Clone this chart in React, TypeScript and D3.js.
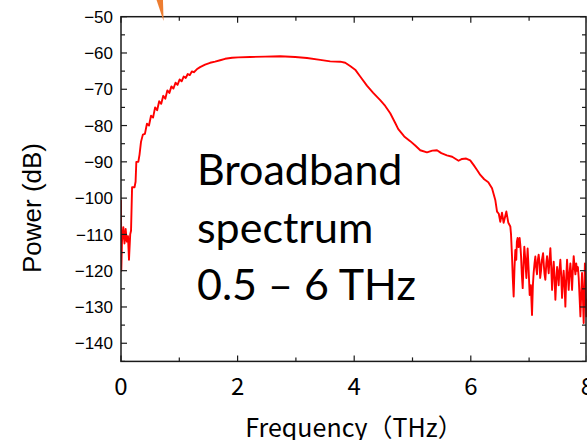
import React from "react";
import * as d3 from "d3";

// Measured THz power spectrum: frequency (THz) and power (dB)
const freqTHz = [
  0.0, 0.005, 0.017, 0.04, 0.06, 0.08, 0.1, 0.12, 0.137, 0.158, 0.172, 0.19,
  0.232, 0.25, 0.263, 0.297, 0.318, 0.343, 0.375, 0.41, 0.445, 0.48, 0.515,
  0.55, 0.585, 0.62, 0.655, 0.69, 0.725, 0.76, 0.795, 0.83, 0.865, 0.9, 0.935,
  0.97, 1.005, 1.04, 1.075, 1.11, 1.145, 1.18, 1.215, 1.25,
  1.3, 1.356, 1.442, 1.528, 1.614, 1.7, 1.785, 1.906, 2.009, 2.215,
  2.472, 2.73, 2.987, 3.19, 3.416, 3.588, 3.76, 3.846, 3.93, 4.017, 4.1, 4.218,
  4.326, 4.446, 4.532, 4.618, 4.704, 4.756, 4.858, 4.961, 5.047, 5.133, 5.248,
  5.34, 5.42, 5.494, 5.59, 5.68, 5.79, 5.85, 5.92, 5.99, 6.05, 6.11, 6.163,
  6.23, 6.3, 6.364, 6.42, 6.45, 6.48, 6.506, 6.535, 6.563, 6.61, 6.644, 6.678,
  6.69, 6.707, 6.72, 6.735, 6.75, 6.764, 6.78, 6.79, 6.803, 6.82, 6.838, 6.85,
  6.862, 6.875, 6.89, 6.905, 6.918, 6.935, 6.953, 6.965, 6.975, 6.99, 7.01, 7.03,
  7.05, 7.065, 7.078, 7.093, 7.107, 7.12, 7.136, 7.15, 7.164, 7.18, 7.19, 7.205,
  7.22, 7.24, 7.255, 7.265, 7.279, 7.295, 7.308, 7.32, 7.336, 7.35, 7.365, 7.38,
  7.394, 7.408, 7.422, 7.437, 7.451, 7.465, 7.48, 7.495, 7.507, 7.52, 7.536, 7.55,
  7.565, 7.58, 7.593, 7.608, 7.622, 7.637, 7.651, 7.665, 7.679, 7.693, 7.708, 7.722,
  7.737, 7.75, 7.765, 7.78, 7.794, 7.808, 7.822, 7.837, 7.851, 7.865, 7.88, 7.895,
  7.908, 7.922, 7.936, 7.947, 7.957, 7.97, 7.98, 7.99, 8.0,
];
const powerDb = [
  -100.5, -120, -112, -108, -112.5, -108.5, -112, -110.5, -117, -110, -109, -97,
  -97, -95.5, -90, -90, -88, -84.5, -82.5, -82.3, -79.5, -80, -77.3,
  -77.8, -75, -75.8, -73.3, -74, -71.8, -72.6, -70.3, -71, -69.2, -69.8, -68.2,
  -68.8, -67.3, -67.8, -66.5, -66.9, -65.8, -66.1, -65.1, -65.3,
  -64.5, -63.9, -63.2, -62.7, -62.4, -62, -61.6, -61.3, -61.2, -61.1,
  -61, -60.9, -61.1, -61.4, -61.9, -62.3, -62.4, -62.7, -63.6, -64.6, -66.4, -69,
  -71, -73, -74.6, -76.6, -79.3, -81, -83, -84.3, -85.5, -86.8, -87.4,
  -86.9, -86.8, -87.6, -88.2, -88.6, -89.7, -89.2, -89.1, -89.6, -90.9, -92.3, -93.6,
  -94.8, -95.6, -97.3, -100.5, -103.7, -104.3, -106.5, -104, -106.8, -103.7, -106.8, -107.8,
  -110, -116.1, -122, -127.1, -119, -114.3, -117, -112, -111, -113.5, -111, -113,
  -116, -121, -124.8, -118, -113.4, -117, -122, -117, -113.9, -119, -126.7, -124,
  -132.2, -124, -120.6, -118, -116.1, -119, -121, -117, -115.6, -118, -122, -120,
  -117, -115.2, -119, -121, -122.5, -118, -116, -118, -120.7, -117, -113.8, -119,
  -125.3, -121, -117.5, -122, -128, -123, -119, -121, -124, -120, -117, -121,
  -127.5, -123, -120, -124, -129.9, -122, -117, -121, -125.3, -121, -118, -121,
  -125.3, -120, -116, -119, -121, -118, -120, -119, -122, -127, -132.6, -126,
  -120.6, -127, -134.4, -126, -118, -125, -132.6, -128, -131,
];

const xTicks = [0, 2, 4, 6, 8];
const xMinorTicks = [1, 3, 5, 7];
const yTicks = [-140, -130, -120, -110, -100, -90, -80, -70, -60, -50];
const yMinorTicks = [-145, -135, -125, -115, -105, -95, -85, -75, -65, -55];
const annotationLines = ["Broadband", "spectrum", "0.5 – 6 THz"];

export default function App() {
  const W = 587;
  const H = 440;
  const left = 121;
  const right = 586;
  const top = 16.7;
  const bottom = 361.4;

  const x = d3.scaleLinear().domain([0, 8]).range([121, 587.4]);
  const y = d3.scaleLinear().domain([-145, -50]).range([bottom, top]);

  const points: [number, number][] = freqTHz.map((f, i) => [f, powerDb[i]]);
  const line = d3
    .line<[number, number]>()
    .x((d) => x(d[0]))
    .y((d) => y(d[1]));

  const axisColor = "#1a1a1a";
  const major = 6;
  const minor = 4;

  return (
    <svg
      width={W}
      height={H}
      style={{ position: "absolute", left: 0, top: 0, background: "#fff" }}
    >
      <rect x={0} y={0} width={W} height={H} fill="#fff" />

      <defs>
        <clipPath id="plot-clip">
          <rect x={left} y={top} width={W - left} height={bottom - top} />
        </clipPath>
      </defs>

      {/* spectrum trace */}
      <path
        d={line(points) || ""}
        fill="none"
        stroke="#ff0000"
        strokeWidth={1.9}
        strokeLinejoin="round"
        clipPath="url(#plot-clip)"
      />

      {/* frame */}
      <rect
        x={left}
        y={top}
        width={right - left}
        height={bottom - top}
        fill="none"
        stroke={axisColor}
        strokeWidth={1.5}
      />

      {/* x ticks, bottom and top, pointing inward */}
      {xTicks.map((t) => (
        <g key={"xt" + t}>
          <line x1={x(t)} x2={x(t)} y1={bottom} y2={bottom - major} stroke={axisColor} strokeWidth={1.2} />
          <line x1={x(t)} x2={x(t)} y1={top} y2={top + major} stroke={axisColor} strokeWidth={1.2} />
          <text
            x={x(t)}
            y={395}
            textAnchor="middle"
            fontFamily="'Noto Sans CJK JP', 'Noto Sans', sans-serif"
            fontSize={24}
            fill="#000"
          >
            {t}
          </text>
        </g>
      ))}
      {xMinorTicks.map((t) => (
        <g key={"xm" + t}>
          <line x1={x(t)} x2={x(t)} y1={bottom} y2={bottom - minor} stroke={axisColor} strokeWidth={1.2} />
          <line x1={x(t)} x2={x(t)} y1={top} y2={top + minor} stroke={axisColor} strokeWidth={1.2} />
        </g>
      ))}

      {/* y ticks, left and right, pointing inward */}
      {yTicks.map((t) => (
        <g key={"yt" + t}>
          <line x1={left} x2={left + major} y1={y(t)} y2={y(t)} stroke={axisColor} strokeWidth={1.2} />
          <line x1={right} x2={right - major} y1={y(t)} y2={y(t)} stroke={axisColor} strokeWidth={1.2} />
          <text
            x={113}
            y={y(t)}
            dy="0.36em"
            textAnchor="end"
            fontFamily="'Liberation Sans', Arial, sans-serif"
            fontSize={17}
            fill="#000"
          >
            {"\u2212" + Math.abs(t)}
          </text>
        </g>
      ))}
      {yMinorTicks.map((t) => (
        <g key={"ym" + t}>
          <line x1={left} x2={left + minor} y1={y(t)} y2={y(t)} stroke={axisColor} strokeWidth={1.2} />
          <line x1={right} x2={right - minor} y1={y(t)} y2={y(t)} stroke={axisColor} strokeWidth={1.2} />
        </g>
      ))}

      {/* axis titles */}
      <text
        x={354}
        y={437}
        textAnchor="middle"
        fontFamily="'Noto Sans CJK JP', 'Noto Sans', sans-serif"
        fontSize={25}
        fill="#000"
      >
        Frequency（THz）
      </text>
      <text
        transform="translate(41,208) rotate(-90)"
        textAnchor="middle"
        fontFamily="'Liberation Sans', Arial, sans-serif"
        fontSize={26}
        fill="#000"
      >
        Power (dB)
      </text>

      {/* annotation */}
      {annotationLines.map((s, i) => (
        <text
          key={s}
          x={197}
          y={185 + i * 57.5}
          fontFamily="Lato, 'Open Sans', sans-serif"
          fontSize={43}
          fill="#000"
        >
          {s}
        </text>
      ))}

      {/* orange pointer tip entering from above */}
      <polygon
        points={`${x(0.61)},0 ${x(0.72)},0 ${x(0.73)},21`}
        fill="#ed7d31"
      />
    </svg>
  );
}
